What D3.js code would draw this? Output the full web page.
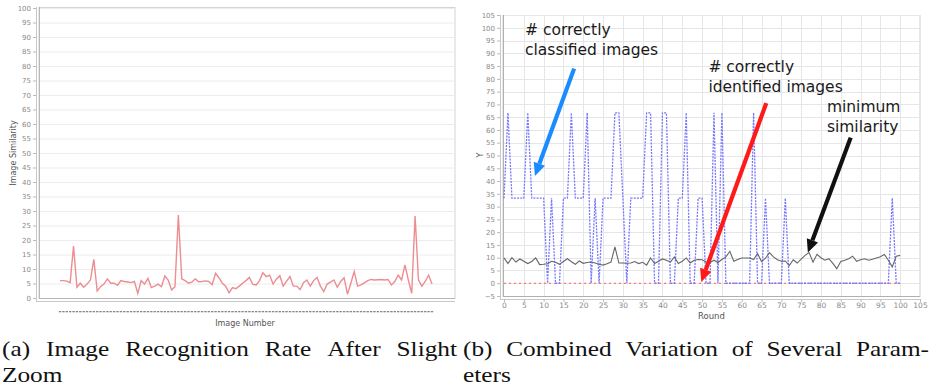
<!DOCTYPE html>
<html>
<head>
<meta charset="utf-8">
<script src="https://cdn.jsdelivr.net/npm/d3@7"></script>
<style>
  body { margin: 0; background: #fff; }
  svg text { font-family: "DejaVu Sans", sans-serif; }
</style>
</head>
<body>
<svg id="chart" width="934" height="391"></svg>
<script>
// ---- panel (a): image similarity per image ----
var imageSimilarity = [
  6.0, 6.0, 5.8, 5.3, 17.9, 3.7, 5.1, 3.7, 4.8, 6.2, 13.3, 2.4,
  3.9, 4.8, 6.6, 5.1, 5.1, 4.4, 6.0, 5.7, 5.5, 5.3, 5.7, 1.6,
  6.0, 4.8, 6.8, 3.6, 4.1, 4.8, 3.9, 7.6, 6.2, 2.8, 3.9, 28.6,
  6.6, 6.0, 5.1, 5.5, 6.6, 5.6, 5.7, 5.9, 5.7, 4.6, 8.5, 7.0,
  5.1, 4.1, 1.8, 3.6, 3.2, 4.1, 5.1, 6.0, 7.1, 4.7, 4.5, 6.0,
  8.7, 7.4, 7.9, 4.8, 6.5, 7.7, 4.1, 5.8, 7.4, 4.1, 4.1, 2.9,
  5.3, 6.2, 4.1, 6.0, 7.1, 4.1, 2.2, 4.8, 5.5, 6.2, 3.7, 5.7,
  7.0, 1.3, 5.1, 9.1, 4.1, 4.5, 5.2, 6.0, 6.4, 6.2, 6.3, 6.4,
  6.2, 6.4, 4.5, 5.7, 7.9, 6.2, 11.4, 6.2, 1.6, 28.3, 6.2, 4.1,
  5.7, 7.9, 4.8
];
var simTicks = d3.range(0, 101, 5);

// ---- panel (b): combined variation per round ----
var rounds = d3.range(0, 101);
var classified = [
  33.3, 66.7, 33.3, 33.3, 33.3, 33.3, 66.7, 33.3, 33.3, 33.3, 33.3, 0,
  33.3, 0, 0, 33.3, 33.3, 66.7, 33.3, 33.3, 33.3, 66.7, 0, 33.3,
  0, 33.3, 33.3, 33.3, 66.7, 66.7, 33.3, 0, 33.3, 33.3, 33.3, 33.3,
  66.7, 66.7, 0, 0, 66.7, 66.7, 0, 0, 33.3, 33.3, 66.7, 0,
  0, 33.3, 33.3, 0, 0, 66.7, 0, 66.7, 0, 0, 0, 0,
  0, 0, 0, 66.7, 0, 0, 33.3, 0, 0, 0, 0, 33.3,
  0, 0, 0, 0, 0, 0, 0, 0, 0, 0, 0, 0,
  0, 0, 0, 0, 0, 0, 0, 0, 0, 0, 0, 0,
  0, 0, 33.3, 0, 0
];
var identified = [
  0, 0, 0, 0, 0, 0, 0, 0, 0, 0, 0, 0, 0, 0, 0, 0, 0, 0, 0, 0,
  0, 0, 0, 0, 0, 0, 0, 0, 0, 0, 0, 0, 0, 0, 0, 0, 0, 0, 0, 0,
  0, 0, 0, 0, 0, 0, 0, 0, 0, 0, 0, 0, 0, 0, 0, 0, 0, 0, 0, 0,
  0, 0, 0, 0, 0, 0, 0, 0, 0, 0, 0, 0, 0, 0, 0, 0, 0, 0, 0, 0,
  0, 0, 0, 0, 0, 0, 0, 0, 0, 0, 0, 0, 0, 0, 0, 0, 0, 0, 0, 0, 0
];
var minSimilarity = [
  9.9, 7.7, 10.0, 8.3, 9.5, 8.6, 7.7, 8.5, 9.9, 7.3, 7.4, 7.6,
  8.6, 8.2, 7.4, 8.5, 9.6, 8.4, 7.4, 8.7, 7.8, 8.1, 8.3, 7.9,
  7.4, 7.1, 7.6, 8.3, 14.2, 7.9, 7.9, 7.8, 7.9, 8.5, 7.7, 8.2,
  7.1, 9.9, 7.7, 8.6, 9.5, 9.0, 8.3, 10.3, 7.7, 8.6, 9.9, 7.9,
  9.0, 9.3, 9.2, 8.3, 8.1, 9.0, 8.1, 9.3, 10.3, 12.5, 8.6, 9.3,
  9.9, 9.9, 9.9, 9.3, 11.6, 8.5, 9.8, 12.0, 10.3, 9.2, 8.6, 8.7,
  6.9, 9.2, 7.9, 9.4, 10.9, 12.0, 8.2, 11.3, 10.0, 9.0, 9.6, 7.8,
  5.7, 8.5, 9.0, 9.6, 10.6, 8.6, 9.2, 9.6, 9.0, 9.4, 9.9, 10.4,
  11.3, 9.0, 6.4, 10.6, 10.9
];
var roundTicks = d3.range(0, 106, 5);
var yTicks = d3.range(-5, 106, 5);

// annotations: label position, arrow start/end in data units (round, value)
var notes = [
  { lines: ["# correctly", "classified images"], tx: 5.3, ty: 97.3, color: "#1a8cff", from: [17.7, 84], to: [7.8, 42] },
  { lines: ["# correctly", "identified images"], tx: 51.6, ty: 82.6, color: "#ff1a1a", from: [66.2, 70.5], to: [49.8, 0.5] },
  { lines: ["minimum", "similarity"], tx: 81.5, ty: 67.2, color: "#111", from: [87.5, 57], to: [76.7, 12] }
];

var svg = d3.select("#chart");

// ================= panel (a) =================
var xA = d3.scaleLinear().domain([0, imageSimilarity.length - 1]).range([60, 432]);
var yA = d3.scaleLinear().domain([0, 100]).range([298, 8]);
var gA = svg.append("g");

gA.append("rect")
  .attr("x", 39).attr("y", 7.5).attr("width", 416).attr("height", 291)
  .attr("fill", "#fff").attr("stroke", "#d4d4d4");

gA.selectAll("line.grid")
  .data(simTicks.filter(function(d) { return d > 0; }))
  .enter().append("line")
  .attr("x1", 40).attr("x2", 455)
  .attr("y1", function(d) { return yA(d) + 0.5; })
  .attr("y2", function(d) { return yA(d) + 0.5; })
  .attr("stroke", "#ececec");

// double axis lines
gA.append("line").attr("x1", 36.5).attr("x2", 36.5).attr("y1", 7).attr("y2", 301).attr("stroke", "#c8c8c8");
gA.append("line").attr("x1", 39.5).attr("x2", 39.5).attr("y1", 7).attr("y2", 299).attr("stroke", "#b8b8b8");
gA.append("line").attr("x1", 39).attr("x2", 455).attr("y1", 298.5).attr("y2", 298.5).attr("stroke", "#b8b8b8");
gA.append("line").attr("x1", 36).attr("x2", 455).attr("y1", 301.5).attr("y2", 301.5).attr("stroke", "#c8c8c8");

gA.append("g")
  .attr("transform", "translate(36,0)")
  .call(d3.axisLeft(yA).tickValues(simTicks).tickSize(3).tickPadding(2))
  .call(function(g) {
    g.select(".domain").remove();
    g.selectAll(".tick line").attr("stroke", "#bbb");
    g.selectAll(".tick text").attr("fill", "#8a8a8a").style("font-size", "7px");
  });

gA.append("path")
  .datum(imageSimilarity)
  .attr("fill", "none")
  .attr("stroke", "#ec8d92")
  .attr("stroke-width", 1.4)
  .attr("d", d3.line()
    .x(function(d, i) { return xA(i); })
    .y(function(d) { return yA(d); }));

// squeezed image-number tick labels (they read as a dashed row)
gA.selectAll("rect.lbl")
  .data(imageSimilarity)
  .enter().append("rect")
  .attr("x", function(d, i) { return xA(i) - 1.2; })
  .attr("y", 311)
  .attr("width", 2.4).attr("height", 1.3)
  .attr("fill", "#888");

gA.append("text")
  .attr("x", 245).attr("y", 326)
  .attr("text-anchor", "middle")
  .attr("fill", "#555")
  .style("font-size", "8px")
  .text("Image Number");

gA.append("text")
  .attr("transform", "translate(16,153) rotate(-90)")
  .attr("text-anchor", "middle")
  .attr("fill", "#555")
  .style("font-size", "8px")
  .text("Image Similarity");

// ================= panel (b) =================
var xB = d3.scaleLinear().domain([0, 105]).range([504, 920]);
var yB = d3.scaleLinear().domain([-5, 105]).range([296, 15]);
var gB = svg.append("g");

gB.append("rect")
  .attr("x", 503).attr("y", 15.5).attr("width", 417).attr("height", 281)
  .attr("fill", "#fff").attr("stroke", "#cfcfcf");

gB.selectAll("line.vgrid")
  .data(roundTicks.filter(function(d) { return d > 0; }))
  .enter().append("line")
  .attr("x1", function(d) { return Math.round(xB(d)) + 0.5; })
  .attr("x2", function(d) { return Math.round(xB(d)) + 0.5; })
  .attr("y1", 16).attr("y2", 296)
  .attr("stroke", "#e6e6e6");

gB.selectAll("line.hgrid")
  .data(yTicks)
  .enter().append("line")
  .attr("x1", 503).attr("x2", 920)
  .attr("y1", function(d) { return Math.round(yB(d)) + 0.5; })
  .attr("y2", function(d) { return Math.round(yB(d)) + 0.5; })
  .attr("stroke", "#e6e6e6");

gB.append("line").attr("x1", 500.5).attr("x2", 500.5).attr("y1", 15).attr("y2", 299).attr("stroke", "#c8c8c8");
gB.append("line").attr("x1", 503.5).attr("x2", 503.5).attr("y1", 15).attr("y2", 297).attr("stroke", "#b0b0b0");
gB.append("line").attr("x1", 503).attr("x2", 920).attr("y1", 296.5).attr("y2", 296.5).attr("stroke", "#b0b0b0");
gB.append("line").attr("x1", 500).attr("x2", 920).attr("y1", 299.5).attr("y2", 299.5).attr("stroke", "#c8c8c8");

gB.append("g")
  .attr("transform", "translate(500,0)")
  .call(d3.axisLeft(yB).tickValues(yTicks).tickSize(3).tickPadding(2))
  .call(function(g) {
    g.select(".domain").remove();
    g.selectAll(".tick line").attr("stroke", "#bbb");
    g.selectAll(".tick text").attr("fill", "#8a8a8a").style("font-size", "7px");
  });

gB.append("g")
  .attr("transform", "translate(0,299)")
  .call(d3.axisBottom(xB).tickValues(roundTicks).tickSize(3).tickPadding(1))
  .call(function(g) {
    g.select(".domain").remove();
    g.selectAll(".tick line").attr("stroke", "#bbb");
    g.selectAll(".tick text").attr("fill", "#8a8a8a").style("font-size", "7.5px");
  });

gB.append("text")
  .attr("x", 698).attr("y", 319)
  .attr("fill", "#555")
  .style("font-size", "8.5px")
  .text("Round");

gB.append("text")
  .attr("transform", "translate(483,155) rotate(-90)")
  .attr("text-anchor", "middle")
  .attr("fill", "#555")
  .style("font-size", "8px")
  .text("Y");

var lineB = function(arr) {
  return d3.line()
    .x(function(d, i) { return xB(rounds[i]); })
    .y(function(d) { return yB(d); })(arr);
};

gB.append("path")
  .attr("d", lineB(identified))
  .attr("fill", "none").attr("stroke", "#ff5a5a")
  .attr("stroke-width", 1.2).attr("stroke-dasharray", "2,3");

gB.append("path")
  .attr("d", lineB(classified))
  .attr("fill", "none").attr("stroke", "#7676ff")
  .attr("stroke-width", 1.3).attr("stroke-dasharray", "2,1.2");

gB.append("path")
  .attr("d", lineB(minSimilarity))
  .attr("fill", "none").attr("stroke", "#666")
  .attr("stroke-width", 1.1);

// annotations
notes.forEach(function(n) {
  var x1 = xB(n.from[0]), y1 = yB(n.from[1]);
  var x2 = xB(n.to[0]), y2 = yB(n.to[1]);
  var ang = Math.atan2(y2 - y1, x2 - x1);
  var head = 13, half = 6;
  var bx = x2 - head * Math.cos(ang), by = y2 - head * Math.sin(ang);
  gB.append("line")
    .attr("x1", x1).attr("y1", y1).attr("x2", bx).attr("y2", by)
    .attr("stroke", n.color).attr("stroke-width", 4.2);
  gB.append("polygon")
    .attr("points", [
      [x2, y2],
      [bx + half * Math.sin(ang), by - half * Math.cos(ang)],
      [bx - half * Math.sin(ang), by + half * Math.cos(ang)]
    ].map(function(p) { return p.join(","); }).join(" "))
    .attr("fill", n.color);
  var t = gB.append("text")
    .attr("x", xB(n.tx)).attr("y", yB(n.ty))
    .attr("fill", "#1a1a1a")
    .style("font-size", "15.5px");
  n.lines.forEach(function(s, i) {
    t.append("tspan").attr("x", xB(n.tx)).attr("dy", i === 0 ? 0 : 20).text(s);
  });
});

// ================= captions =================
// Liberation Serif glyphs are stretched a little to get closer to the wider TeX face
var capFont = "22px 'Liberation Serif', 'DejaVu Serif', serif";
var stretch = 1.15;
function captionText(x, y, s) {
  var t = svg.append("text").attr("x", x).attr("y", y).attr("fill", "#111")
    .style("font", capFont).text(s);
  var w = t.node().getComputedTextLength() * stretch;
  t.attr("textLength", w).attr("lengthAdjust", "spacingAndGlyphs");
  return t;
}
function justified(words, x0, x1, y) {
  var nodes = words.map(function(w) { return captionText(x0, y, w); });
  var widths = nodes.map(function(t) { return +t.attr("textLength"); });
  var gap = (x1 - x0 - d3.sum(widths)) / (words.length - 1);
  var x = x0;
  nodes.forEach(function(t, i) { t.attr("x", x); x += widths[i] + gap; });
}
justified(["(a)", "Image", "Recognition", "Rate", "After", "Slight"], 2, 457, 356);
justified(["(b)", "Combined", "Variation", "of", "Several", "Param-"], 463, 929, 356);
captionText(2, 382, "Zoom");
captionText(463, 382, "eters");
</script>
</body>
</html>
